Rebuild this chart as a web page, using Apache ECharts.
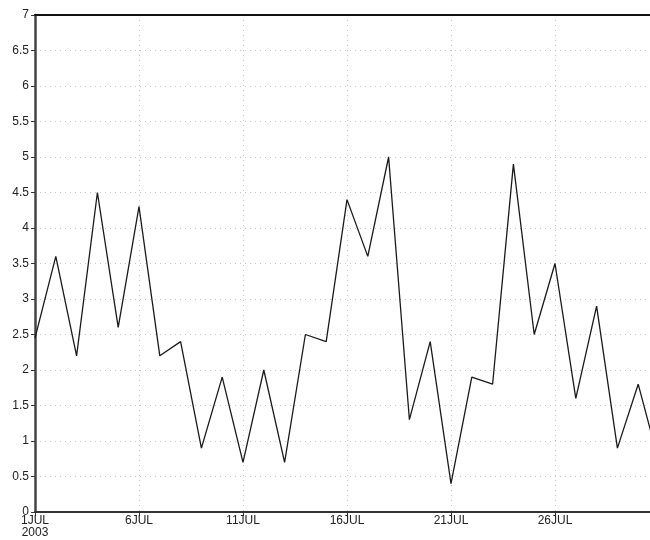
<!DOCTYPE html>
<html>
<head>
<meta charset="utf-8">
<script src="https://cdn.jsdelivr.net/npm/echarts@6/dist/echarts.min.js"></script>
<style>html,body{margin:0;padding:0;background:#fff}#c{width:650px;height:540px}</style>
</head>
<body>
<div id="c"></div>
<script>
// day offsets from 1 JUL 2003 (0 = 1JUL)
var dayOffsets = [0,1,2,3,4,5,6,7,8,9,10,11,12,13,14,15,16,17,18,19,20,21,22,23,24,25,26,27,28,29,30];
var values = [2.45,3.6,2.2,4.5,2.6,4.3,2.2,2.4,0.9,1.9,0.7,2.0,0.7,2.5,2.4,4.4,3.6,5.0,1.3,2.4,0.4,1.9,1.8,4.9,2.5,3.5,1.6,2.9,0.9,1.8,0.7];
var monthLabel = 'JUL';
var yearLabel = '2003';
var yTicks = [0,0.5,1,1.5,2,2.5,3,3.5,4,4.5,5,5.5,6,6.5,7];

var data = dayOffsets.map(function(d,i){return [d, values[i]];});
var chart = echarts.init(document.getElementById('c'));
var font = 'Liberation Sans, Arial, Helvetica, sans-serif';
chart.setOption({
  animation:false,
  backgroundColor:'#fff',
  grid:{left:35, width:624, top:15, bottom:28, outerBoundsMode:'none', containLabel:false,
        show:false},
  xAxis:[{
    type:'value', min:0, max:30, interval:5,
    axisLine:{show:true, lineStyle:{color:'#333', width:2}},
    axisTick:{show:true, length:4, lineStyle:{color:'#333', width:1}},
    axisLabel:{color:'#222', fontSize:12, fontFamily:font, margin:3, lineHeight:12, showMaxLabel:false,
      formatter:function(v){ var s=(v+1)+monthLabel; return v===0 ? s+'\n'+yearLabel : s; }},
    splitLine:{show:true, lineStyle:{color:'#c8c8c8', type:[1,4], width:1}}
  },{
    type:'value', position:'top', min:0, max:30, interval:5,
    axisLine:{show:true, onZero:false, lineStyle:{color:'#111', width:2}},
    axisTick:{show:false}, axisLabel:{show:false}, splitLine:{show:false}
  }],
  yAxis:{
    type:'value', min:yTicks[0], max:yTicks[yTicks.length-1], interval:0.5,
    axisLine:{show:true, lineStyle:{color:'#444', width:2.5}},
    axisTick:{show:true, length:4, lineStyle:{color:'#333', width:1}},
    axisLabel:{color:'#222', fontSize:12, fontFamily:font, margin:6},
    splitLine:{show:true, lineStyle:{color:'#c8c8c8', type:[1,4], width:1}}
  },
  series:[{
    type:'line', xAxisIndex:0, data:data, showSymbol:false, symbol:'none',
    lineStyle:{color:'#1a1a1a', width:1.3}, clip:true
  }]
});
</script>
</body>
</html>
